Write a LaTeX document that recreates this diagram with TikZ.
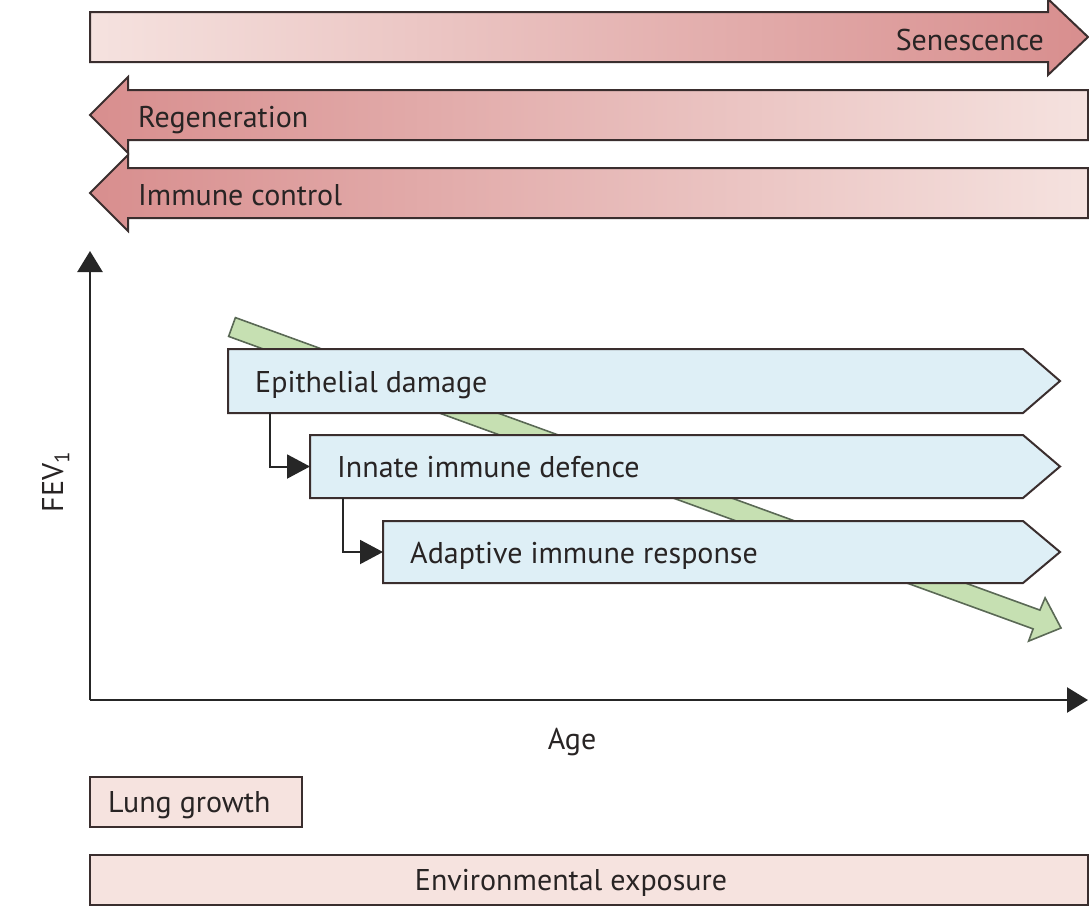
\documentclass[tikz,border=0pt]{standalone}
\usepackage{fontspec}
\setmainfont{PT Sans}
\usetikzlibrary{arrows.meta,calc}
\definecolor{pinkdark}{RGB}{216,142,142}
\definecolor{pinkmid}{RGB}{228,166,164}
\definecolor{pinklight}{RGB}{245,226,223}
\definecolor{pinkbox}{RGB}{246,227,223}
\definecolor{bluebox}{RGB}{222,239,246}
\definecolor{greenfill}{RGB}{198,224,178}
\definecolor{greenline}{RGB}{90,105,85}
\definecolor{outline}{RGB}{58,46,46}
\definecolor{txt}{RGB}{40,36,36}
\begin{document}
\begin{tikzpicture}[x=1pt,y=-1pt,
  lbl/.style={font=\fontsize{30}{33}\selectfont, text=txt, inner sep=0pt},
  bandline/.style={draw=outline, line width=2pt, line join=miter},
  chevron/.style={draw=outline, line width=2pt, fill=bluebox},
  boxbody/.style={inner sep=0pt, outer sep=0pt},
  pinkrect/.style={draw=outline, line width=2pt, fill=pinkbox, inner sep=0pt, outer sep=0pt},
  conn/.style={draw=black!85, line width=2pt, -{Triangle[length=23pt,width=24pt]}},
  axis/.style={draw=black!85, line width=2.5pt, -{Triangle[length=21pt,width=25pt]}}
]
\useasboundingbox (0,0) rectangle (1089,919);

% ---- top bands ----
\shade[left color=pinklight, middle color=pinkmid, right color=pinkdark, bandline]
  (90,12) -- (1048,12) -- (1048,-1) -- (1088,37) -- (1048,75) -- (1048,62) -- (90,62) -- cycle;
\node[lbl, anchor=base east] (sen) at (1044,50) {Senescence};

\shade[left color=pinkdark, middle color=pinkmid, right color=pinklight, bandline]
  (1088,90) -- (128,90) -- (128,77) -- (90,115) -- (128,153) -- (128,140) -- (1088,140) -- cycle;
\node[lbl, anchor=base west] (reg) at (138,127) {Regeneration};

\shade[left color=pinkdark, middle color=pinkmid, right color=pinklight, bandline]
  (1088,168) -- (128,168) -- (128,155) -- (90,193) -- (128,231) -- (128,218) -- (1088,218) -- cycle;
\node[lbl, anchor=base west] (imm) at (138,205) {Immune control};

% ---- axes ----
\coordinate (origin) at (90,700);
\coordinate (ytop) at (90,251);
\coordinate (xend) at (1088,700);
\draw[axis] (origin) -- (ytop);
\draw[axis] (origin) -- (xend);
\node[lbl, rotate=90, anchor=base] (fev) at (63,482) {FEV\textsubscript{1}};
\node[lbl, anchor=base] (age) at (572,749) {Age};

% ---- green trend arrow ----
\draw[fill=greenfill, draw=greenline, line width=1.6pt, line join=miter]
  (228.6,336.4) -- (1033.1,628.9) -- (1028.6,641.1) -- (1061,628)
  -- (1045.1,597.8) -- (1039.9,610.1) -- (235.4,317.6) -- cycle;

% ---- blue chevrons ----
\node[boxbody, anchor=north west, minimum width=795pt, minimum height=64pt] (epi) at (228,349) {};
\node[boxbody, anchor=north west, minimum width=713pt, minimum height=63pt] (inn) at (310,435) {};
\node[boxbody, anchor=north west, minimum width=640pt, minimum height=62pt] (ada) at (383,521) {};
\foreach \b in {epi,inn,ada}{
  \draw[chevron] (\b.north west) -- (\b.north east) -- ($(\b.east)+(37,0)$) -- (\b.south east) -- (\b.south west) -- cycle;
}
\node[lbl, anchor=base west] (epit) at (255,392) {Epithelial damage};
\node[lbl, anchor=base west] (innt) at (337,477) {Innate immune defence};
\node[lbl, anchor=base west] (adat) at (410,563) {Adaptive immune response};

\draw[conn] ([xshift=42pt]epi.south west) |- (inn.west);
\draw[conn] ([xshift=33pt]inn.south west) |- (ada.west);

% ---- bottom boxes ----
\node[pinkrect, anchor=north west, minimum width=212pt, minimum height=50pt] (lung) at (90,777) {};
\node[lbl, anchor=base west] (lungt) at (108,812) {Lung growth};
\node[pinkrect, anchor=north west, minimum width=998pt, minimum height=50pt] (env) at (90,855) {};
\node[lbl, anchor=base] (envt) at (571,890) {Environmental exposure};
\end{tikzpicture}
\end{document}
